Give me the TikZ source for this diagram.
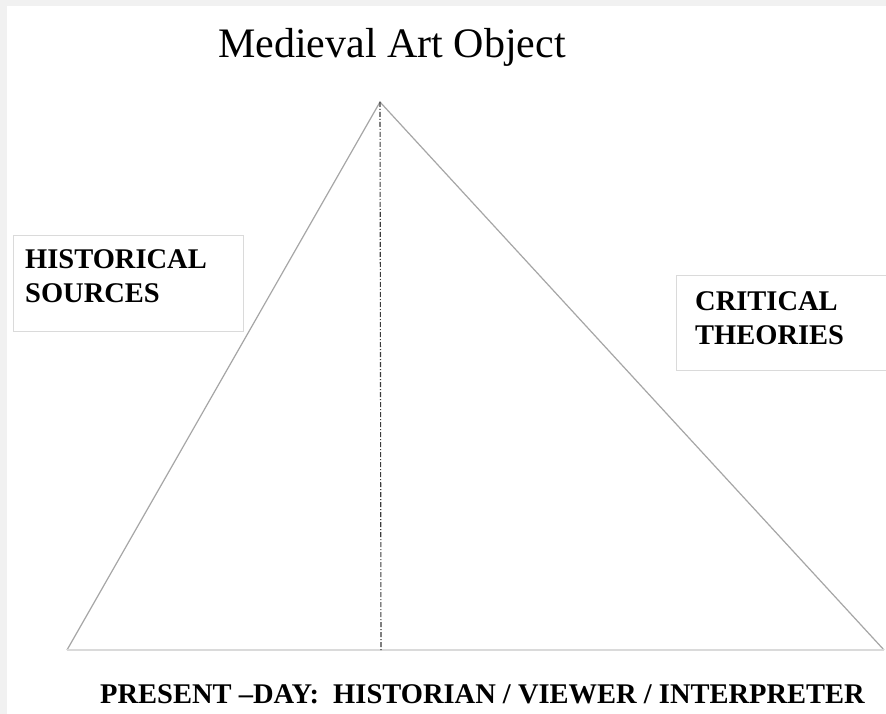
\documentclass[tikz,border=0pt]{standalone}
\usepackage{fontspec}
\setmainfont{Liberation Serif}
\usetikzlibrary{
    positioning,
    calc,
    backgrounds
}
\definecolor{edgecol}{HTML}{A6A6A6}
\definecolor{framecol}{HTML}{DADADA}
\definecolor{pagecol}{HTML}{F1F1F1}
\definecolor{axiscol}{HTML}{3A3A3A}

\begin{document}
\begin{tikzpicture}[
    x=1pt, y=-1pt,
    font=\fontsize{28.5}{34}\selectfont\bfseries,
    side/.style={draw=edgecol, line width=1.2pt},
    axis/.style={draw=axiscol, line width=1.1pt,
        dash pattern=on 5pt off 2pt on 1pt off 2pt},
    srcbox/.style={
        draw=framecol, line width=1.2pt, fill=white,
        anchor=north west, inner sep=0pt
    },
    lbl/.style={anchor=base west, align=left, inner sep=0pt},
]

% ── Page (grey rim, white sheet) ──
\fill[pagecol] (0,0) rectangle (886,714);
\fill[white] (7,6) rectangle (886,714);
\useasboundingbox (0,0) rectangle (886,714);

% ── Title ──
\node[lbl, font=\fontsize{42}{50}\selectfont] (title) at (218,58) {Medieval Art Object};

% ── Triangle corners ──
\coordinate (apex) at (380,102);
\coordinate (bl) at (67,650);
\coordinate (br) at (884,650);
\coordinate (bmid) at (381,650);

% ── Triangle sides ──
\draw[side] (bl) -- (apex) -- (br);
\draw[side, draw=framecol] (bl) -- (br);

% ── Central axis ──
\draw[axis] (apex) -- (bmid);

% ── Side boxes ──
\node[srcbox, minimum width=230pt, minimum height=96pt] (hsbox) at (13,235) {};
\node[lbl] (hslabel) at (25,302) {HISTORICAL\\SOURCES};

\node[srcbox, minimum width=215pt, minimum height=95pt] (ctbox) at (676,275) {};
\node[lbl] (ctlabel) at (695,344) {CRITICAL\\THEORIES};

% ── Viewer line ──
\node[lbl] (viewer) at (100,703) {PRESENT --DAY:\ \ HISTORIAN / VIEWER / INTERPRETER};

\end{tikzpicture}
\end{document}
